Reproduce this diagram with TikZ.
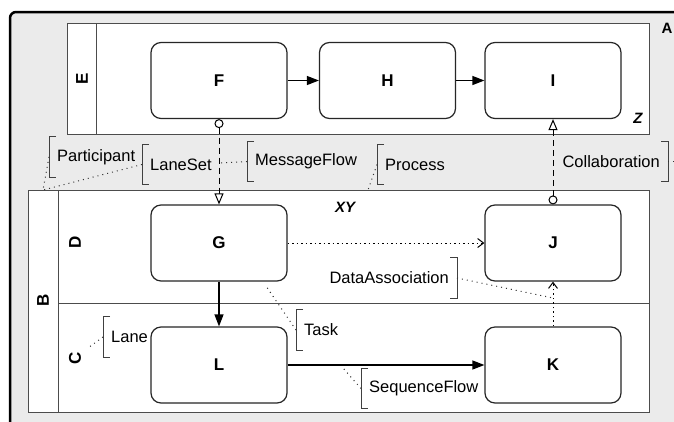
\documentclass[tikz,border=0pt]{standalone}
\usepackage{fontspec}
\setmainfont{Liberation Sans}
\usetikzlibrary{arrows.meta}

\tikzset{
  task/.style={draw=black!85, fill=white, line width=1.2pt, rounded corners=10pt,
    minimum width=136pt, minimum height=76pt, font=\fontsize{17}{20}\selectfont\bfseries},
  pool/.style={draw=black!70, fill=white, line width=1pt},
  lbl/.style={font=\fontsize{17}{20}\selectfont\bfseries},
  poolname/.style={font=\fontsize{15}{18}\selectfont\bfseries\itshape},
  note/.style={font=\fontsize{16.5}{19}\selectfont, minimum height=40pt, inner xsep=8pt, inner ysep=0pt},
  bracket/.style={draw=black!75, line width=0.9pt},
  link/.style={black!80, line width=1pt, dash pattern=on 1pt off 4pt},
  seqflow/.style={line width=1.2pt, -{Triangle[length=12pt,width=9pt]}},
  msgflow/.style={line width=1pt, dash pattern=on 6pt off 4pt,
    {Circle[open,fill=white,length=9pt,width=9pt]}-{Triangle[open,fill=white,length=11pt,width=9pt]}},
  dataflow/.style={line width=1pt, dash pattern=on 1.5pt off 3pt, -{Straight Barb[length=6pt,width=9pt]}}
}

\begin{document}
\begin{tikzpicture}[x=1pt, y=-1pt]
    \path[use as bounding box, clip] (0,0) rectangle (674,421);

    % collaboration A
    \draw[fill=black!8, line width=2.5pt, rounded corners=6pt] (10,12) rectangle (720,460);
    \node[font=\fontsize{15}{18}\selectfont\bfseries, inner sep=1pt] (A) at (667,28) {A};

    % pool E
    \draw[pool] (67,23) rectangle (649,134);
    \draw[pool] (96,23) -- (96,134);
    \node[lbl, rotate=90] (E) at (82,79) {E};
    \node[poolname] (Z) at (638,118) {Z};

    % pool B with lanes D and C
    \draw[pool] (28,190) rectangle (649,412);
    \draw[pool] (58,190) -- (58,412);
    \draw[pool] (58,303) -- (649,303);
    \node[lbl, rotate=90] (B) at (43,300) {B};
    \node[lbl, rotate=90] (D) at (75,242) {D};
    \node[lbl, rotate=90] (C) at (75,358) {C};
    \node[poolname] (XY) at (345,207) {XY};

    \node[task] (F) at (219,80.5) {F};
    \node[task] (H) at (387.5,80.5) {H};
    \node[task] (I) at (553,80.5) {I};
    \node[task] (G) at (219,243) {G};
    \node[task] (J) at (553,243) {J};
    \node[task] (L) at (219,365) {L};
    \node[task] (K) at (553,365) {K};

    \draw[seqflow] (F) -- (H);
    \draw[seqflow] (H) -- (I);
    \draw[seqflow] (G) -- (L);
    \draw[seqflow] (L) -- (K);
    \draw[msgflow] (F) -- (G);
    \draw[msgflow] (J) -- (I);
    \draw[dataflow] (G) -- (J);
    \draw[dataflow] (K) -- (J);

    % annotations
    \node[note, anchor=west] (participant) at (49,157) {Participant};
    \node[note, anchor=west] (laneset) at (142,164.5) {LaneSet};
    \node[note, anchor=west] (messageflow) at (247,161.5) {MessageFlow};
    \node[note, anchor=west] (process) at (377,164.5) {Process};
    \node[note, anchor=east] (collaboration) at (668,161.5) {Collaboration};
    \node[note, anchor=east] (dataassociation) at (457,278) {DataAssociation};
    \node[note, anchor=west] (task) at (296,330) {Task};
    \node[note, anchor=west] (lane) at (103,337) {Lane};
    \node[note, anchor=west] (sequenceflow) at (361,388.5) {SequenceFlow};

    \foreach \n in {participant,laneset,messageflow,process,task,lane,sequenceflow}
      \draw[bracket] ([xshift=7pt]\n.north west) -- (\n.north west) -- (\n.south west) -- ([xshift=7pt]\n.south west);
    \foreach \n in {collaboration,dataassociation}
      \draw[bracket] ([xshift=-7pt]\n.north east) -- (\n.north east) -- (\n.south east) -- ([xshift=-7pt]\n.south east);

    \coordinate (poolB) at (43,190);
    \coordinate (msgline) at (219,163);
    \coordinate (processtop) at (368,190);
    \coordinate (outerA) at (700,161.5);
    \coordinate (dataline) at (553,298);
    \coordinate (taskcorner) at (266,286);
    \coordinate (laneC) at (88,348);
    \coordinate (seqline) at (343,368);

    \draw[link] (participant.west) -- (poolB);
    \draw[link] (laneset.west) -- (poolB);
    \draw[link] (messageflow.west) -- (msgline);
    \draw[link] (process.west) -- (processtop);
    \draw[link] (collaboration.east) -- (outerA);
    \draw[link] (dataassociation.east) -- (dataline);
    \draw[link] (task.west) -- (taskcorner);
    \draw[link] (lane.west) -- (laneC);
    \draw[link] (sequenceflow.west) -- (seqline);
\end{tikzpicture}
\end{document}
